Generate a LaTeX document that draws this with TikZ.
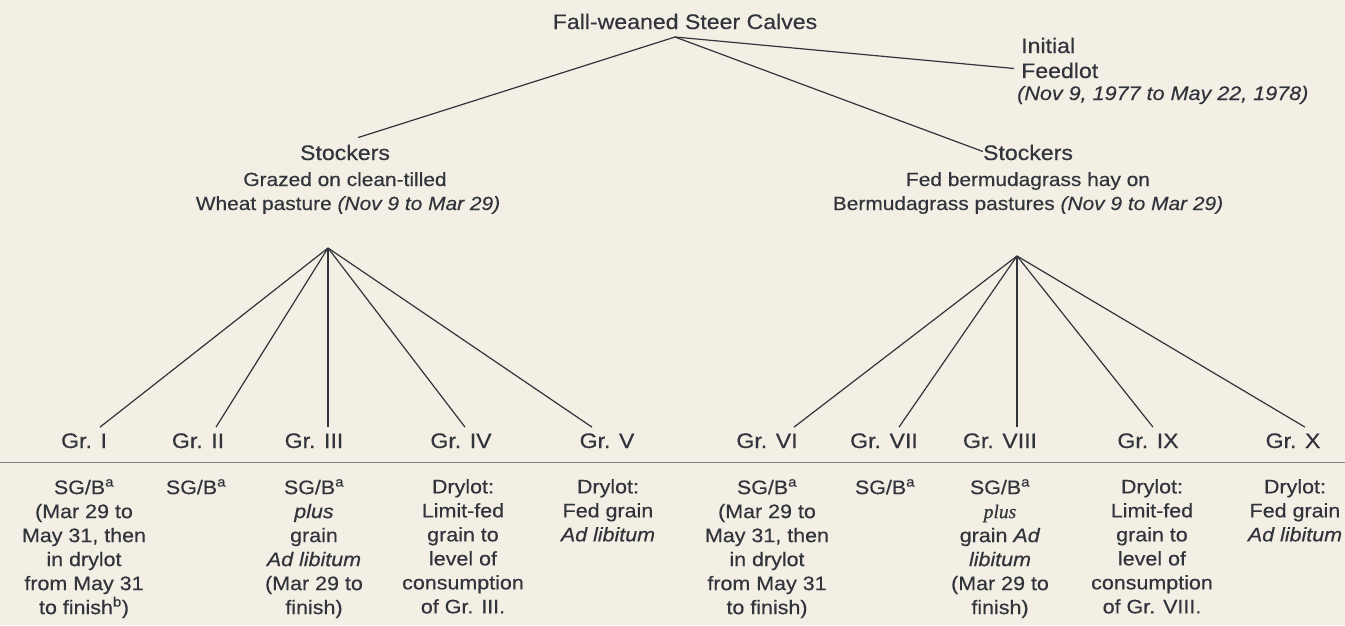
\documentclass[tikz,border=0pt]{standalone}
\usepackage{fontspec}
\setmainfont{Liberation Sans}[FakeStretch=1.1,FakeBold=0.4]
\newfontfamily\serifit{Liberation Serif}[FakeBold=0.4]
\definecolor{bg}{RGB}{243,239,229}
\definecolor{ink}{RGB}{50,52,60}
\definecolor{rulecol}{RGB}{130,130,132}
\newcommand{\fbig}{\fontsize{21}{25}\selectfont}
\newcommand{\fmid}{\fontsize{19}{25}\selectfont}
\newcommand{\fdate}{\fontsize{19.6}{25}\selectfont}
\newcommand{\fbody}{\fontsize{19.5}{24}\selectfont}
\tikzset{
  every node/.append style={text=ink, inner sep=0pt},
  grp/.style={font=\fbig, anchor=base},
  bodytxt/.style={font=\fbody, align=center, anchor=north},
  conn/.style={draw=ink, line width=1.2pt},
  sep/.style={draw=rulecol, line width=0.9pt}
}
\begin{document}
\begin{tikzpicture}[x=1pt,y=-1pt]
\path[fill=bg] (0,0) rectangle (1345,625);
\useasboundingbox (0,0) rectangle (1345,625);

% top
\node[anchor=base, font=\fbig] (title) at (685,29) {Fall-weaned Steer Calves};
\coordinate (jt) at (675,37);

\node[anchor=base west, font=\fbig] (init) at (1021,53) {Initial};
\node[anchor=base west, font=\fbig] (feed) at (1021,78) {Feedlot};
\node[anchor=base west, font=\fdate\itshape] (feeddate) at (1017,100) {(Nov 9, 1977 to May 22, 1978)};

\node[anchor=base, font=\fbig] (stl) at (345,160) {Stockers};
\node[anchor=base, font=\fmid] (stl2) at (345,186) {Grazed on clean-tilled};
\node[anchor=base, font=\fmid] (stl3) at (348,210) {Wheat pasture \textit{(Nov 9 to Mar 29)}};

\node[anchor=base, font=\fbig] (str) at (1028,160) {Stockers};
\node[anchor=base, font=\fmid] (str2) at (1028,186) {Fed bermudagrass hay on};
\node[anchor=base, font=\fmid] (str3) at (1028,210) {Bermudagrass pastures \textit{(Nov 9 to Mar 29)}};

\draw[conn] (jt) -- ([xshift=-7pt,yshift=2pt]feed.west);
\draw[conn] (jt) -- ([xshift=13pt,yshift=7pt]stl.north);
\draw[conn] (jt) -- ([yshift=1pt]str.west);

\coordinate (jl) at (328,248);
\coordinate (jr) at (1017,256);

% groups
\node[grp] (g1) at (84,448) {Gr. I};
\node[grp] (g2) at (198,448) {Gr. II};
\node[grp] (g3) at (314,448) {Gr. III};
\node[grp] (g4) at (461,448) {Gr. IV};
\node[grp] (g5) at (607,448) {Gr. V};
\node[grp] (g6) at (767,448) {Gr. VI};
\node[grp] (g7) at (884,448) {Gr. VII};
\node[grp] (g8) at (1000,448) {Gr. VIII};
\node[grp] (g9) at (1148,448) {Gr. IX};
\node[grp] (g10) at (1293,448) {Gr. X};

\draw[conn] (jl) -- ([xshift=16pt,yshift=6pt]g1.north);
\draw[conn] (jl) -- ([xshift=18pt,yshift=6pt]g2.north);
\draw[conn] (jl) -- ([xshift=14pt,yshift=6pt]g3.north);
\draw[conn] (jl) -- ([xshift=4pt,yshift=6pt]g4.north);
\draw[conn] (jl) -- ([xshift=-15pt,yshift=6pt]g5.north);
\draw[conn] (jr) -- ([xshift=27pt,yshift=6pt]g6.north);
\draw[conn] (jr) -- ([xshift=15pt,yshift=6pt]g7.north);
\draw[conn] (jr) -- ([xshift=17pt,yshift=6pt]g8.north);
\draw[conn] (jr) -- ([xshift=5pt,yshift=6pt]g9.north);
\draw[conn] (jr) -- ([xshift=12pt,yshift=6pt]g10.north);

\coordinate (rl) at (0,462);
\coordinate (rr) at (1345,462);
\draw[sep] (rl) -- (rr);

% bodies
\node[bodytxt] (b1) at (84,479) {SG/B\textsuperscript{a}\\(Mar 29 to\\May 31, then\\in drylot\\from May 31\\to finish\textsuperscript{b})};
\node[bodytxt] (b2) at (196,479) {SG/B\textsuperscript{a}};
\node[bodytxt] (b3) at (314,479) {SG/B\textsuperscript{a}\\\textit{plus}\\grain\\\textit{Ad libitum}\\(Mar 29 to\\finish)};
\node[bodytxt] (b4) at (463,479) {Drylot:\\Limit-fed\\grain to\\level of\\consumption\\of Gr. III.};
\node[bodytxt] (b5) at (608,479) {Drylot:\\Fed grain\\\textit{Ad libitum}};
\node[bodytxt] (b6) at (767,479) {SG/B\textsuperscript{a}\\(Mar 29 to\\May 31, then\\in drylot\\from May 31\\to finish)};
\node[bodytxt] (b7) at (885,479) {SG/B\textsuperscript{a}};
\node[bodytxt] (b8) at (1000,479) {SG/B\textsuperscript{a}\\{\serifit\itshape plus}\\grain \textit{Ad}\\\textit{libitum}\\(Mar 29 to\\finish)};
\node[bodytxt] (b9) at (1152,479) {Drylot:\\Limit-fed\\grain to\\level of\\consumption\\of Gr. VIII.};
\node[bodytxt] (b10) at (1295,479) {Drylot:\\Fed grain\\\textit{Ad libitum}};
\end{tikzpicture}
\end{document}
